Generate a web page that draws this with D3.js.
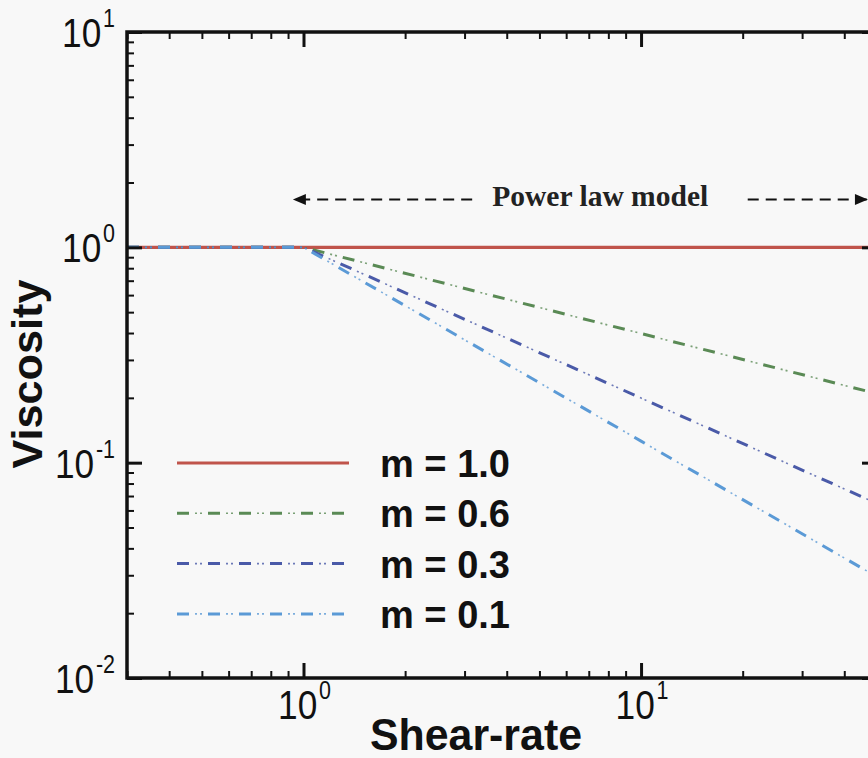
<!DOCTYPE html>
<html>
<head>
<meta charset="utf-8">
<script src="https://cdn.jsdelivr.net/npm/d3@7"></script>
<style>
  html, body { margin: 0; padding: 0; background: #f8f8f8; }
  svg { display: block; }
</style>
</head>
<body>
<svg id="chart" width="868" height="758"></svg>
<script>
// Shear-rate sample points and viscosity for each flow index m
const shearRate = [0.3, 1, 10, 50];
const viscM10 = [1, 1, 1, 1];
const viscM06 = [1, 1, 0.398, 0.209];
const viscM03 = [1, 1, 0.1995, 0.0646];
const viscM01 = [1, 1, 0.1259, 0.0295];

const seriesLabels = ["m = 1.0", "m = 0.6", "m = 0.3", "m = 0.1"];
const seriesValues = [viscM10, viscM06, viscM03, viscM01];
const seriesColors = ["#c0544b", "#5a8a55", "#4a5aa8", "#5b9ad6"];

// axis ticks
const xMajor = [1, 10];
const xMinor = [0.3, 0.4, 0.5, 0.6, 0.7, 0.8, 0.9, 2, 3, 4, 5, 6, 7, 8, 9, 20, 30, 40];
const xTickExp = ["0", "1"];
const yMajor = [0.01, 0.1, 1, 10];
const yMinor = [];
[0.01, 0.1, 1].forEach(d => { for (let k = 2; k <= 9; k++) yMinor.push(+(d * k).toPrecision(3)); });
const yTickExp = ["-2", "-1", "0", "1"];

const svg = d3.select("#chart");
const plotLeft = 127, plotRight = 877, plotTop = 32, plotBottom = 678;

const x = d3.scaleLog().domain([0.3, 50]).range([plotLeft, plotRight]);
const y = d3.scaleLog().domain([0.01, 10]).range([plotBottom, plotTop]);

// dash-dot-dot styling: bold dashes plus a lighter pair of dots per 31px period
function strokeSeries(sel, i) {
  if (i === 0) {
    sel.append("path").attr("class", "solid")
      .attr("stroke", seriesColors[i]).attr("stroke-width", 3.2);
    return;
  }
  sel.append("path").attr("class", "dash")
    .attr("stroke", seriesColors[i]).attr("stroke-width", 3)
    .attr("stroke-dasharray", "12,19");
  sel.append("path").attr("class", "dots")
    .attr("stroke", seriesColors[i]).attr("stroke-width", 1.6)
    .attr("stroke-opacity", 0.8)
    .attr("stroke-dasharray", "0,18,2,3,2,6");
}

// curves: solid reference first, dash-dot-dot series drawn over it
const line = d3.line().x(d => x(d[0])).y(d => y(d[1]));
const plot = svg.append("g");
seriesValues.forEach((vals, i) => {
  const g = plot.append("g");
  strokeSeries(g, i);
  g.selectAll("path")
    .datum(shearRate.map((s, j) => [s, vals[j]]))
    .attr("d", line)
    .attr("fill", "none");
});

// axes with inward ticks, major and minor sets
function styleAxis(g, w) {
  g.select(".domain").remove();
  g.selectAll(".tick line").attr("stroke", "#111").attr("stroke-width", w);
  g.selectAll(".tick text").remove();
}
const axes = svg.append("g");
axes.append("g").attr("transform", `translate(0,${plotBottom})`)
  .call(d3.axisBottom(x).tickValues(xMinor).tickSize(-7).tickFormat(""))
  .call(g => styleAxis(g, 2));
axes.append("g").attr("transform", `translate(0,${plotBottom})`)
  .call(d3.axisBottom(x).tickValues(xMajor).tickSize(-15).tickFormat(""))
  .call(g => styleAxis(g, 3));
axes.append("g").attr("transform", `translate(0,${plotTop})`)
  .call(d3.axisTop(x).tickValues(xMinor).tickSize(-7).tickFormat(""))
  .call(g => styleAxis(g, 2));
axes.append("g").attr("transform", `translate(0,${plotTop})`)
  .call(d3.axisTop(x).tickValues(xMajor).tickSize(-15).tickFormat(""))
  .call(g => styleAxis(g, 3));
axes.append("g").attr("transform", `translate(${plotLeft},0)`)
  .call(d3.axisLeft(y).tickValues(yMinor).tickSize(-7).tickFormat(""))
  .call(g => styleAxis(g, 2));
axes.append("g").attr("transform", `translate(${plotLeft},0)`)
  .call(d3.axisLeft(y).tickValues(yMajor).tickSize(-15).tickFormat(""))
  .call(g => styleAxis(g, 3));
axes.append("g").attr("transform", `translate(${plotRight},0)`)
  .call(d3.axisRight(y).tickValues(yMinor).tickSize(-7).tickFormat(""))
  .call(g => styleAxis(g, 2));
axes.append("g").attr("transform", `translate(${plotRight},0)`)
  .call(d3.axisRight(y).tickValues(yMajor).tickSize(-15).tickFormat(""))
  .call(g => styleAxis(g, 3));

// frame
svg.append("rect")
  .attr("x", plotLeft).attr("y", plotTop)
  .attr("width", plotRight - plotLeft).attr("height", plotBottom - plotTop)
  .attr("fill", "none").attr("stroke", "#111").attr("stroke-width", 3.5);

// power-of-ten tick labels
const fontSans = "'Liberation Sans', Arial, Helvetica, sans-serif";
function powLabel(g, px, py, exp, anchor) {
  const t = g.append("text")
    .attr("transform", `translate(${px},${py}) scale(0.86,1)`)
    .attr("text-anchor", anchor)
    .attr("font-family", fontSans)
    .attr("font-size", 41)
    .attr("fill", "#111");
  t.append("tspan").text("10");
  t.append("tspan").attr("dx", 2).attr("dy", -20).attr("font-size", 25).text(exp);
}
const labels = svg.append("g");
yMajor.forEach((v, i) => powLabel(labels, 115, y(v) + 15, yTickExp[i], "end"));
xMajor.forEach((v, i) => powLabel(labels, x(v) + 1, plotBottom + 41, xTickExp[i], "middle"));

// axis titles
svg.append("text")
  .attr("x", 476).attr("y", 750)
  .attr("text-anchor", "middle")
  .attr("font-family", fontSans).attr("font-weight", "bold")
  .attr("font-size", 44).attr("fill", "#111")
  .attr("textLength", 212).attr("lengthAdjust", "spacingAndGlyphs")
  .text("Shear-rate");
svg.append("text")
  .attr("transform", "translate(42,374) rotate(-90)")
  .attr("text-anchor", "middle")
  .attr("font-family", fontSans).attr("font-weight", "bold")
  .attr("font-size", 42).attr("fill", "#111")
  .attr("textLength", 189).attr("lengthAdjust", "spacingAndGlyphs")
  .text("Viscosity");

// legend
const legend = svg.append("g");
seriesLabels.forEach((lab, i) => {
  const ly = 463 + i * 50.3;
  const g = legend.append("g");
  strokeSeries(g, i);
  g.selectAll("path")
    .attr("d", `M177,${ly}H349`)
    .attr("fill", "none");
  legend.append("text")
    .attr("x", 380).attr("y", ly + 14)
    .attr("font-family", fontSans).attr("font-weight", "bold")
    .attr("font-size", 38).attr("fill", "#111")
    .attr("textLength", 130).attr("lengthAdjust", "spacingAndGlyphs")
    .text(lab);
});

// power-law region annotation
const arrowY = y(1.67);
const ann = svg.append("g");
function arrow(x0, x1) {
  ann.append("line")
    .attr("x1", x0).attr("x2", x1).attr("y1", arrowY).attr("y2", arrowY)
    .attr("stroke", "#111").attr("stroke-width", 2)
    .attr("stroke-dasharray", "11,7");
  const dir = x1 > x0 ? 1 : -1;
  ann.append("path")
    .attr("d", `M${x1},${arrowY} L${x1 - dir * 13},${arrowY - 5.5} L${x1 - dir * 13},${arrowY + 5.5} Z`)
    .attr("fill", "#111");
}
arrow(x(3.16), x(0.93));
arrow(x(20.7), x(47));
ann.append("text")
  .attr("x", x(7.57)).attr("y", arrowY + 7)
  .attr("text-anchor", "middle")
  .attr("font-family", "'Liberation Serif', 'Times New Roman', serif")
  .attr("font-weight", "bold").attr("font-size", 29).attr("fill", "#222")
  .attr("textLength", 216).attr("lengthAdjust", "spacingAndGlyphs")
  .text("Power law model");
</script>
</body>
</html>
